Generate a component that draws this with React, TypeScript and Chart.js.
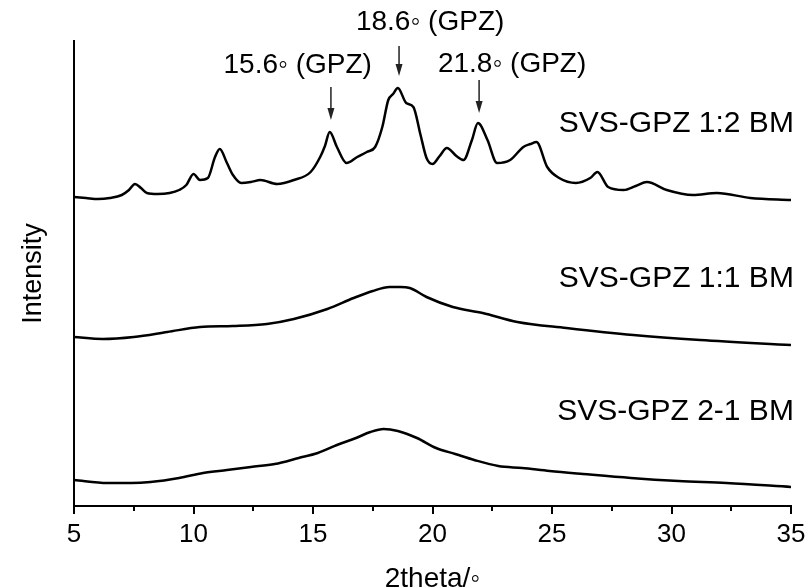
import React, { useEffect, useRef } from 'react';
import { Chart, registerables } from 'chart.js';

Chart.register(...registerables);

// 2theta values (degrees) and intensities (arbitrary, stacked offset units)
const theta12 = [5.0, 5.5, 6.0, 6.5, 7.0, 7.3, 7.55, 7.8, 8.05, 8.5, 9.0, 9.4, 9.7, 10.0, 10.27, 10.6, 10.9, 11.1, 11.4, 11.65, 12.0, 12.4, 12.8, 13.5, 14.2, 14.9, 15.3, 15.5, 15.7, 16.0, 16.4, 16.85, 17.25, 17.6, 17.9, 18.15, 18.35, 18.55, 18.9, 19.2, 19.5, 19.75, 20.0, 20.3, 20.6, 21.0, 21.3, 21.65, 21.9, 22.3, 22.7, 23.25, 23.8, 24.1, 24.35, 24.8, 25.3, 26.0, 26.6, 26.9, 27.35, 28.0, 28.5, 28.97, 29.8, 30.9, 31.9, 33.3, 35.0];
const int12 = [309, 308, 307, 308, 311, 316, 322, 318, 313, 312, 313, 316, 321, 332, 326, 328, 349, 357, 343, 331, 323, 324, 326, 322, 326, 334, 349, 360, 374, 359, 343, 349, 354, 359, 379, 406, 412, 418, 403, 399, 371, 348, 342, 350, 358, 350, 346, 366, 383, 366, 343, 346, 359, 362, 364, 339, 328, 323, 328, 334, 319, 316, 320, 324, 316, 311, 313, 308, 306];

const theta11 = [5.0, 6.2, 7.5, 8.9, 10.27, 11.65, 13.07, 14.2, 15.6, 16.7, 17.5, 18.2, 18.65, 19.05, 19.75, 20.85, 22.1, 23.55, 25.6, 28.4, 31.2, 35.0];
const int11 = [169, 167, 169, 174, 179, 180, 182, 187, 197, 208, 215, 219, 219, 218, 209, 199, 193, 184, 178, 171, 166, 161];

const theta21 = [5.0, 6.4, 7.4, 8.2, 9.4, 10.4, 11.4, 12.4, 13.4, 14.4, 15.2, 16.0, 16.8, 17.4, 17.95, 18.55, 19.35, 20.15, 20.95, 21.75, 22.75, 23.75, 24.9, 26.3, 28.3, 30.3, 32.3, 35.0];
const int21 = [26, 23, 23, 24, 28, 33, 36, 39, 42, 48, 53, 61, 68, 74, 77, 75, 68, 58, 52, 46, 40, 38, 35, 32, 28, 25, 23, 19];

const seriesNames = ['SVS-GPZ 1:2 BM', 'SVS-GPZ 1:1 BM', 'SVS-GPZ 2-1 BM'];
const xMajorTicks = [5, 10, 15, 20, 25, 30, 35];
const xMinorTicks = [7.5, 12.5, 17.5, 22.5, 27.5, 32.5];

const peakLabels = ['15.6\u25E6 (GPZ)', '18.6\u25E6 (GPZ)', '21.8\u25E6 (GPZ)'];
const peakPositions = [15.75, 18.6, 21.95];

const FONT = '"Liberation Sans", Arial, Helvetica, sans-serif';

export default function App() {
  const ref = useRef<HTMLCanvasElement>(null);

  useEffect(() => {
    const canvas = ref.current;
    if (!canvas) return;
    const toPts = (xs: number[], ys: number[]) => xs.map((x, i) => ({ x, y: ys[i] }));

    const annotPlugin = {
      id: 'xrdAnnot',
      afterDraw(chart: any) {
        const { ctx } = chart;
        const xs = chart.scales.x;
        const ys = chart.scales.y;
        ctx.save();
        // minor/major tick marks
        ctx.strokeStyle = '#000';
        ctx.lineWidth = 2;
        const axisY = ys.getPixelForValue(0);
        xMajorTicks.forEach((v) => {
          const px = Math.round(xs.getPixelForValue(v));
          ctx.beginPath();
          ctx.moveTo(px, axisY);
          ctx.lineTo(px, axisY + 8);
          ctx.stroke();
        });
        xMinorTicks.forEach((v) => {
          const px = Math.round(xs.getPixelForValue(v));
          ctx.beginPath();
          ctx.moveTo(px, axisY);
          ctx.lineTo(px, axisY + 5);
          ctx.stroke();
        });

        // arrows
        const arrows = [
          { x: peakPositions[0], y0: 419, y1: 386 },
          { x: peakPositions[1], y0: 460, y1: 430 },
          { x: peakPositions[2], y0: 426, y1: 393 },
        ];
        ctx.strokeStyle = '#222';
        ctx.fillStyle = '#222';
        ctx.lineWidth = 1.5;
        arrows.forEach((a) => {
          const px = xs.getPixelForValue(a.x);
          const p0 = ys.getPixelForValue(a.y0);
          const p1 = ys.getPixelForValue(a.y1);
          ctx.beginPath();
          ctx.moveTo(px, p0);
          ctx.lineTo(px, p1 - 10);
          ctx.stroke();
          ctx.beginPath();
          ctx.moveTo(px - 3.5, p1 - 12);
          ctx.lineTo(px + 3.5, p1 - 12);
          ctx.lineTo(px, p1);
          ctx.closePath();
          ctx.fill();
        });

        // peak labels
        ctx.fillStyle = '#000';
        ctx.font = `28px ${FONT}`;
        ctx.textAlign = 'center';
        ctx.textBaseline = 'alphabetic';
        const labelPos = [
          { x: 14.36, y: 433 },
          { x: 19.9, y: 476 },
          { x: 23.33, y: 434 },
        ];
        peakLabels.forEach((t, i) => {
          ctx.fillText(t, xs.getPixelForValue(labelPos[i].x), ys.getPixelForValue(labelPos[i].y));
        });

        // series labels
        ctx.font = `30px ${FONT}`;
        ctx.textAlign = 'right';
        const seriesLabelY = [374, 219, 86];
        seriesNames.forEach((t, i) => {
          ctx.fillText(t, xs.getPixelForValue(35.12), ys.getPixelForValue(seriesLabelY[i]));
        });
        ctx.restore();
      },
    };

    const ds = (name: string, xs: number[], ys: number[]) => ({
      label: name,
      data: toPts(xs, ys),
      borderColor: '#000',
      borderWidth: 2.5,
      pointRadius: 0,
      fill: false,
      cubicInterpolationMode: 'monotone' as const,
    });

    const chart = new Chart(canvas, {
      type: 'line',
      data: {
        datasets: [
          ds(seriesNames[0], theta12, int12),
          ds(seriesNames[1], theta11, int11),
          ds(seriesNames[2], theta21, int21),
        ],
      },
      options: {
        animation: false,
        responsive: false,
        layout: { padding: { left: 0, right: 18, top: 41, bottom: 0 } },
        plugins: { legend: { display: false }, tooltip: { enabled: false } },
        scales: {
          x: {
            type: 'linear',
            min: 5,
            max: 35,
            afterBuildTicks: (s: any) => {
              s.ticks = xMajorTicks.map((v) => ({ value: v }));
            },
            afterFit: (s: any) => {
              s.height = 82;
              s.paddingLeft = 0;
              s.paddingRight = 0;
            },
            grid: { display: false, drawTicks: false },
            border: { display: true, color: '#000', width: 2 },
            ticks: {
              color: '#000',
              font: { family: FONT, size: 26 },
              padding: 13,
              maxRotation: 0,
              autoSkip: false,
            },
            title: {
              display: true,
              text: '2theta/\u25E6',
              color: '#000',
              font: { family: FONT, size: 28, lineHeight: 0.6 },
              padding: { top: 0, bottom: 0 },
            },
          },
          y: {
            type: 'linear',
            min: 0,
            max: 465,
            afterFit: (s: any) => {
              s.width = 74;
            },
            ticks: { display: false },
            grid: { display: false, drawTicks: false },
            border: { display: true, color: '#000', width: 2 },
            title: {
              display: true,
              text: 'Intensity',
              color: '#000',
              font: { family: FONT, size: 27, lineHeight: 1.2 },
              padding: { top: 17, bottom: 0 },
            },
          },
        },
      },
      plugins: [annotPlugin],
    });

    return () => chart.destroy();
  }, []);

  return (
    <div style={{ position: 'fixed', left: 0, top: 0, width: 809, height: 588, background: '#fff' }}>
      <canvas ref={ref} width={809} height={588} style={{ width: 809, height: 588, display: 'block' }} />
    </div>
  );
}
